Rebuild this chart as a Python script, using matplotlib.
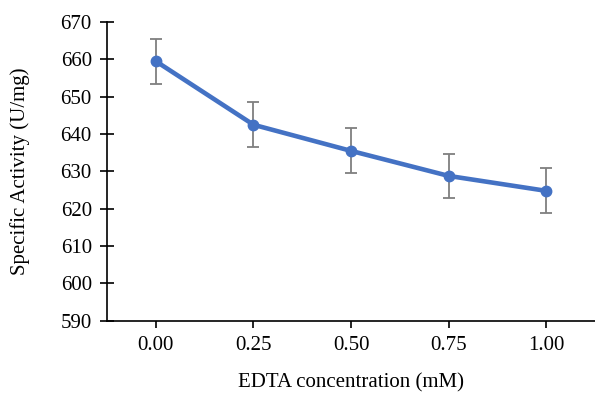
import matplotlib.pyplot as plt

plt.rcParams["font.family"] = ["Liberation Serif", "DejaVu Serif"]

concentration = [0.00, 0.25, 0.50, 0.75, 1.00]
activity = [659.5, 642.5, 635.5, 628.8, 624.8]
error = [6.0, 6.0, 6.0, 6.0, 6.0]
x_labels = ["0.00", "0.25", "0.50", "0.75", "1.00"]

fig = plt.figure(figsize=(5.95, 4.01), dpi=100)
ax = fig.add_axes([0.18, 0.2, 0.82, 0.745])

ax.errorbar(concentration, activity, yerr=error, color="#4472C4", lw=3.3,
            marker="o", ms=7.5, ecolor="#7f7f7f", elinewidth=1.3,
            capsize=4, capthick=1.3, zorder=3)

ax.set_xlim(-0.125, 1.125)
ax.set_ylim(590, 670)
ax.set_xticks(concentration)
ax.set_xticklabels(x_labels)
ax.set_yticks(range(590, 671, 10))

for side in ["top", "right"]:
    ax.spines[side].set_visible(False)
ax.spines["left"].set_linewidth(1.2)
ax.spines["bottom"].set_linewidth(1.2)

ax.tick_params(axis="y", direction="inout", length=10, width=1.2,
               labelsize=15, pad=6)
ax.tick_params(axis="x", direction="out", length=5, width=1.2,
               labelsize=15, pad=6)

ax.set_xlabel("EDTA concentration (mM)", fontsize=15, labelpad=13)
ax.set_ylabel("Specific Activity (U/mg)", fontsize=15, labelpad=22)

fig.savefig("out.png", dpi=100)
